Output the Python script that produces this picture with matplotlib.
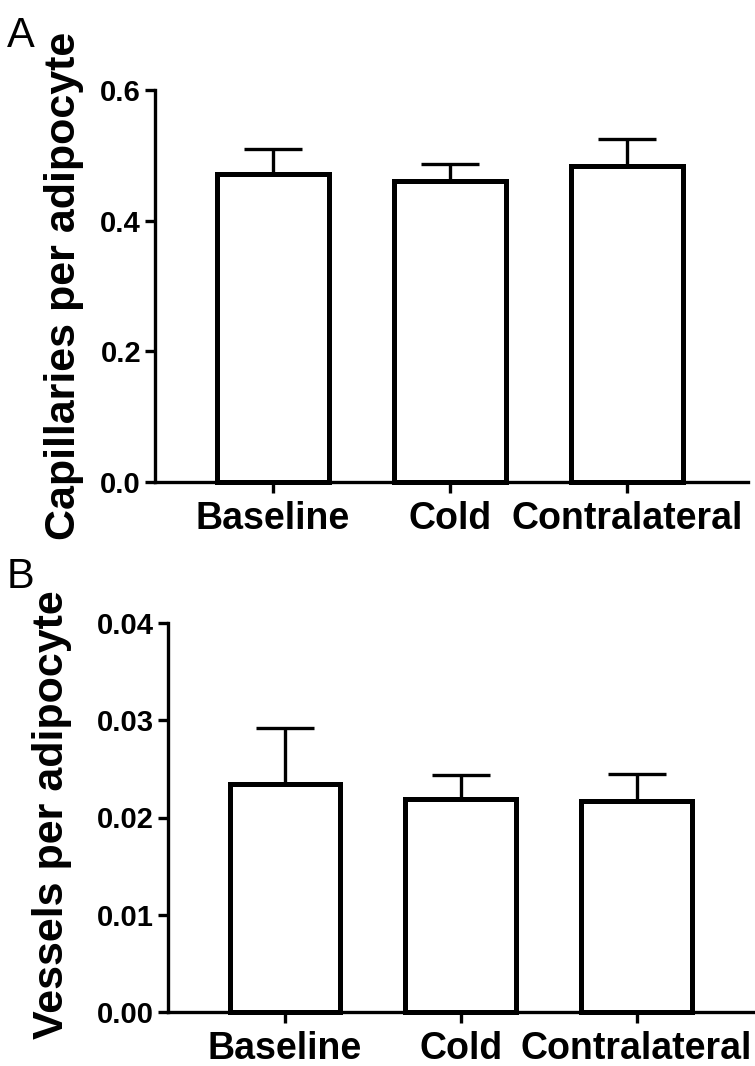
import matplotlib
matplotlib.use("Agg")
import matplotlib.pyplot as plt

categories = ["Baseline", "Cold", "Contralateral"]
cap_means = [0.471, 0.461, 0.484]
cap_sem = [0.039, 0.026, 0.041]
ves_means = [0.0234, 0.0219, 0.0217]
ves_sem = [0.0058, 0.0025, 0.0028]

plt.rcParams['font.family'] = ['Liberation Sans', 'DejaVu Sans']

fig = plt.figure(figsize=(7.55, 10.66), dpi=100)

def panel(rect, means, sem, yticks, ylim, ticklabels, xlim):
    ax = fig.add_axes(rect)
    x = list(range(len(categories)))
    ax.bar(x, means, width=0.63, facecolor='white', edgecolor='black',
           linewidth=3.6, zorder=3, clip_on=False)
    ax.errorbar(x, means, yerr=[[0]*len(sem), sem], fmt='none', ecolor='black',
                elinewidth=2.4, capsize=21, capthick=2.4, zorder=2, clip_on=False)
    ax.set_xlim(*xlim)
    ax.set_ylim(*ylim)
    ax.set_yticks(yticks)
    ax.set_yticklabels(ticklabels, fontsize=21, fontweight='bold')
    ax.set_xticks(x)
    ax.set_xticklabels(categories, fontsize=27, fontweight='bold')
    for s in ['top', 'right']:
        ax.spines[s].set_visible(False)
    for s in ['left', 'bottom']:
        ax.spines[s].set_linewidth(2.4)
        ax.spines[s].set_zorder(4)
    ax.tick_params(axis='y', length=7, width=2.4, pad=3)
    ax.tick_params(axis='x', length=8, width=2.4, pad=6)
    return ax

axA = panel([155/755, 1-482/1066, (748-155)/755, (482-90)/1066],
            cap_means, cap_sem, [0.0, 0.2, 0.4, 0.6], (0, 0.6),
            ["0.0", "0.2", "0.4", "0.6"], (-0.667, 2.684))
axB = panel([168/755, 1-1012/1066, (755-168)/755, (1012-623)/1066],
            ves_means, ves_sem, [0.0, 0.01, 0.02, 0.03, 0.04], (0, 0.04),
            ["0.00", "0.01", "0.02", "0.03", "0.04"], (-0.666, 2.674))

fig.text(64/755, 1-286/1066, "Capillaries per adipocyte", rotation=90, ha='center', va='center',
         fontsize=31, fontweight='bold')
fig.text(52/755, 1-815/1066, "Vessels per adipocyte", rotation=90, ha='center', va='center',
         fontsize=31, fontweight='bold')
fig.text(7/755, 1-16/1066, "A", fontsize=30, ha='left', va='top')
fig.text(7/755, 1-557/1066, "B", fontsize=30, ha='left', va='top')

fig.savefig("out.png", dpi=100)
